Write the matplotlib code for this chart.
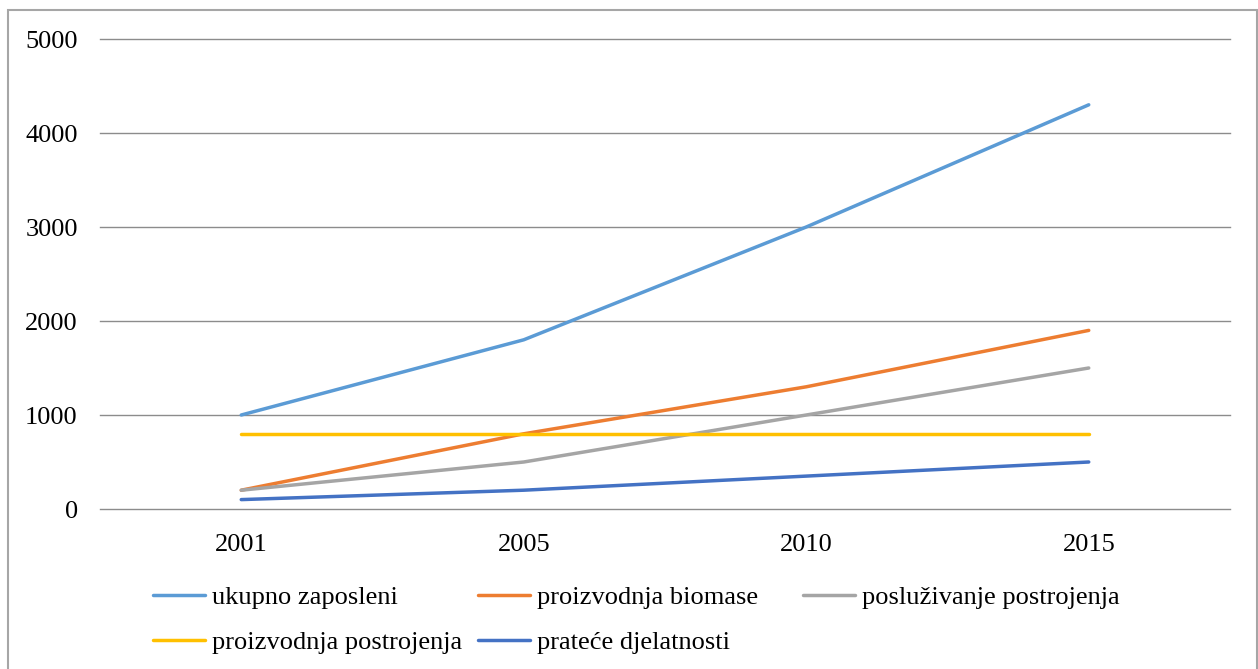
import matplotlib
matplotlib.use('Agg')
import matplotlib.pyplot as plt
from matplotlib.patches import Rectangle

plt.rcParams['font.family'] = ['Liberation Serif', 'DejaVu Serif']

# podaci
godine = ['2001', '2005', '2010', '2015']
ukupno = [1000, 1800, 3000, 4300]
biomasa = [200, 800, 1300, 1900]
posluzivanje = [200, 500, 1000, 1500]
postrojenja = [800, 800, 800, 800]
pratece = [100, 200, 350, 500]

serije = [
    ('ukupno zaposleni', ukupno, '#5B9BD5'),
    ('proizvodnja biomase', biomasa, '#ED7D31'),
    ('posluživanje postrojenja', posluzivanje, '#A5A5A5'),
    ('proizvodnja postrojenja', postrojenja, '#FFC000'),
    ('prateće djelatnosti', pratece, '#4472C4'),
]

W, H = 1258, 669
fig = plt.figure(figsize=(W / 100, H / 100), dpi=100)
ax = fig.add_axes([100 / W, 160 / H, 1130 / W, 470 / H])

x = list(range(len(godine)))
linije = {}
for ime, vrijednosti, boja in serije:
    l, = ax.plot(x, vrijednosti, color=boja, lw=2.5, solid_capstyle='round', label=ime)
    linije[ime] = l

ax.set_xlim(-0.5, len(godine) - 0.5)
ax.set_ylim(0, 5000)
ax.set_yticks([0, 1000, 2000, 3000, 4000, 5000])
ax.set_xticks(x)
ax.set_xticklabels(godine)
ax.yaxis.grid(True, color='#8c8c8c', lw=1)
for g in ax.get_ygridlines():
    g.set_clip_on(False)
ax.set_axisbelow(True)
for s in ax.spines.values():
    s.set_visible(False)
ax.tick_params(axis='both', length=0, labelsize=19)
ax.tick_params(axis='y', pad=16)
ax.tick_params(axis='x', pad=18)

# legenda u tri stupca
stupci = [
    (153, ['ukupno zaposleni', 'proizvodnja postrojenja']),
    (478, ['proizvodnja biomase', 'prateće djelatnosti']),
    (803, ['posluživanje postrojenja']),
]
for px, imena in stupci:
    fig.legend(handles=[linije[i] for i in imena], labels=imena,
               loc='upper left', bbox_to_anchor=(px / W, 1 - 586 / H),
               frameon=False, fontsize=19, borderpad=0, borderaxespad=0,
               handlelength=1.97, handletextpad=0.25, labelspacing=0.8)

fig.add_artist(Rectangle((8 / W, -0.05), (1257 - 8) / W, 1.05 - 10 / H,
                         transform=fig.transFigure, fill=False,
                         edgecolor='#a6a6a6', lw=1.5))

fig.savefig('out.png', dpi=100)
